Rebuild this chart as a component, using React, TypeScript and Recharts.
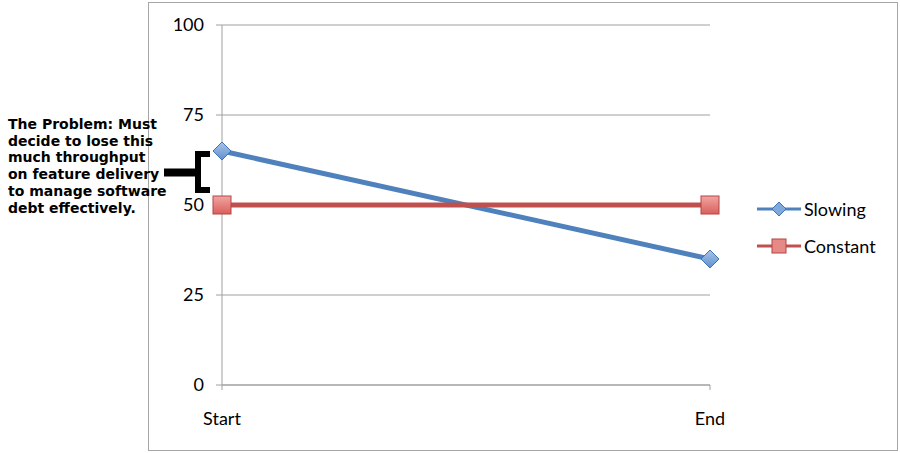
import { LineChart, Line, XAxis, YAxis, CartesianGrid } from 'recharts'

const categories = ['Start', 'End']
const slowing = [65, 35]
const constant = [50, 50]
const yTicks = [0, 25, 50, 75, 100]
const noteLines = [
  'The Problem: Must',
  'decide to lose this',
  'much throughput',
  'on feature delivery',
  'to manage software',
  'debt effectively.',
]

const data = categories.map((c, i) => ({ name: c, Slowing: slowing[i], Constant: constant[i] }))

const BLUE = '#4f81bd'
const RED = '#c0504d'
const AXIS = '#a0a0a0'
const FONT = 'Lato, "Open Sans", sans-serif'

function Diamond({ cx, cy, size = 9 }: { cx?: number; cy?: number; size?: number }) {
  if (cx == null || cy == null) return null
  const r = size
  return (
    <path
      d={`M${cx},${cy - r} L${cx + r},${cy} L${cx},${cy + r} L${cx - r},${cy} Z`}
      fill="url(#diaFill)" stroke="#3f73b3" strokeWidth={1}
    />
  )
}

function Square({ cx, cy, size = 9 }: { cx?: number; cy?: number; size?: number }) {
  if (cx == null || cy == null) return null
  const r = size
  return <rect x={cx - r} y={cy - r} width={r * 2} height={r * 2} fill="url(#sqFill)" stroke="#b54542" strokeWidth={1} />
}

function LegendBox() {
  const items = [
    { label: 'Slowing', color: BLUE, kind: 'd' },
    { label: 'Constant', color: RED, kind: 's' },
  ]
  return (
    <div style={{ fontFamily: FONT, fontSize: 18, color: '#000' }}>
      {items.map((it) => (
        <div key={it.label} style={{ display: 'flex', alignItems: 'center', height: 37 }}>
          <svg width={46} height={20} style={{ marginRight: 2 }}>
            <line x1={1} y1={10} x2={45} y2={10} stroke={it.color} strokeWidth={3} />
            {it.kind === 'd' ? (
              <path d="M23,3 L30,10 L23,17 L16,10 Z" fill="#7fa8dc" stroke="#3f73b3" />
            ) : (
              <rect x={16} y={3} width={14} height={14} fill="#e58a87" stroke="#b54542" />
            )}
          </svg>
          <span>{it.label}</span>
        </div>
      ))}
    </div>
  )
}

export default function App() {
  return (
    <div style={{ position: 'absolute', left: 0, top: 0, width: 900, height: 453, background: '#fff' }}>
      <div style={{ position: 'absolute', left: 148, top: 2, width: 748, height: 447, border: '1.5px solid #a6a6a6' }} />
      <LineChart width={900} height={453} data={data} margin={{ top: 25, right: 190, bottom: 38, left: 172 }}>
        <defs>
          <linearGradient id="diaFill" x1="0" y1="0" x2="0" y2="1">
            <stop offset="0%" stopColor="#a9c5ea" />
            <stop offset="100%" stopColor="#5f8fd0" />
          </linearGradient>
          <linearGradient id="sqFill" x1="0" y1="0" x2="0" y2="1">
            <stop offset="0%" stopColor="#f0a5a2" />
            <stop offset="100%" stopColor="#d9605c" />
          </linearGradient>
        </defs>
        <CartesianGrid vertical={false} stroke={AXIS} strokeWidth={1} />
        <XAxis
          dataKey="name"
          height={30}
          padding={{ left: 0, right: 0 }}
          stroke={AXIS}
          tickSize={5}
          tickMargin={22}
          tick={{ fill: '#000', fontSize: 18, fontFamily: FONT }}
        />
        <YAxis
          width={50}
          domain={[0, 100]}
          ticks={yTicks}
          stroke={AXIS}
          tickSize={6}
          tickMargin={12}
          tick={{ fill: '#000', fontSize: 18, fontFamily: FONT }}
        />
        <Line
          dataKey="Slowing"
          stroke={BLUE}
          strokeWidth={5}
          dot={<Diamond size={9} />}
          activeDot={false}
          isAnimationActive={false}
        />
        <Line
          dataKey="Constant"
          stroke={RED}
          strokeWidth={5}
          dot={<Square size={9} />}
          activeDot={false}
          isAnimationActive={false}
        />
      </LineChart>
      <div style={{ position: 'absolute', left: 756, top: 190 }}>
        <LegendBox />
      </div>
      <div
        style={{
          position: 'absolute', left: 8, top: 116, fontFamily: '"DejaVu Sans", sans-serif',
          fontWeight: 'bold', fontSize: 14, lineHeight: '16.7px', color: '#000', whiteSpace: 'nowrap',
        }}
      >
        {noteLines.map((l) => <div key={l}>{l}</div>)}
      </div>
      <svg width={220} height={453} style={{ position: 'absolute', left: 0, top: 0, pointerEvents: 'none' }}>
        <path d="M210,154 L198,154 L198,190 L210,190" fill="none" stroke="#000" strokeWidth={6} />
        <line x1={164} y1={172.5} x2={198} y2={172.5} stroke="#000" strokeWidth={8} />
      </svg>
    </div>
  )
}
